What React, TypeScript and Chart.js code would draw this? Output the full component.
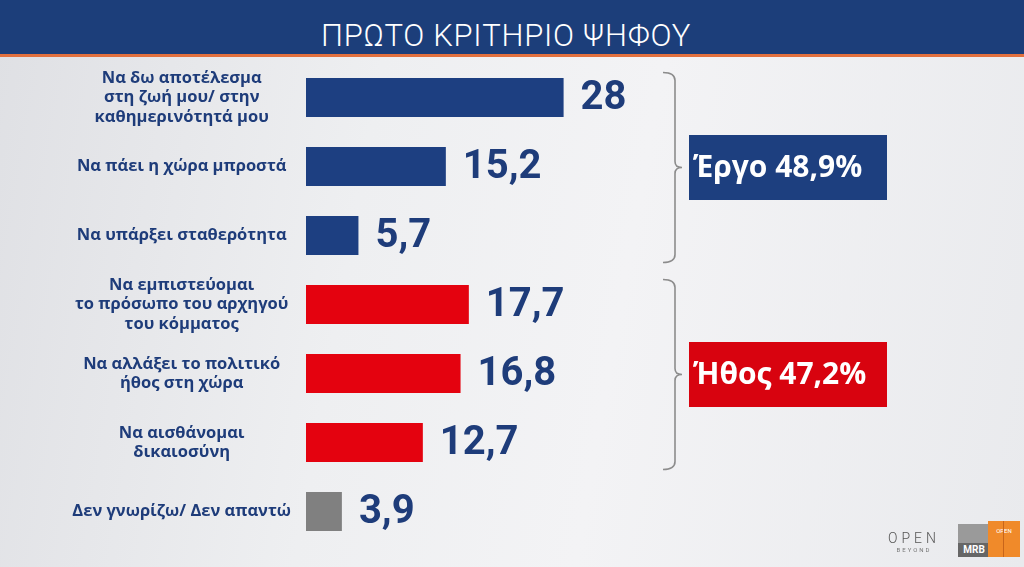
import React, { useEffect, useRef } from "react";
import { Chart, registerables } from "chart.js";

Chart.register(...registerables);

const TITLE = "ΠΡΩΤΟ ΚΡΙΤΗΡΙΟ ΨΗΦΟΥ";
const categories: string[][] = [
  ["Να δω αποτέλεσμα", "στη ζωή μου/ στην", "καθημερινότητά μου"],
  ["Να πάει η χώρα μπροστά"],
  ["Να υπάρξει σταθερότητα"],
  ["Να εμπιστεύομαι", "το πρόσωπο του αρχηγού", "του κόμματος"],
  ["Να αλλάξει το πολιτικό", "ήθος στη χώρα"],
  ["Να αισθάνομαι", "δικαιοσύνη"],
  ["Δεν γνωρίζω/ Δεν απαντώ"],
];
const values: number[] = [28, 15.2, 5.7, 17.7, 16.8, 12.7, 3.9];
const valueLabels: string[] = ["28", "15,2", "5,7", "17,7", "16,8", "12,7", "3,9"];
const groups = [
  { label: "Έργο 48,9%", from: 0, to: 2, color: "#1d3f7f" },
  { label: "Ήθος 47,2%", from: 3, to: 5, color: "#d8030f" },
];

const BLUE = "#1d3f81";
const RED = "#e4020f";
const GREY = "#808080";
const barColors = [BLUE, BLUE, BLUE, RED, RED, RED, GREY];
const TEXT_BLUE = "#1e3c7a";

const valuePlugin = {
  id: "valueLabels",
  afterDatasetsDraw(chart: any) {
    const ctx = chart.ctx;
    const meta = chart.getDatasetMeta(0);
    ctx.save();
    ctx.fillStyle = TEXT_BLUE;
    ctx.font = "bold 40px Roboto";
    ctx.textAlign = "left";
    ctx.textBaseline = "middle";
    meta.data.forEach((bar: any, i: number) => {
      ctx.fillText(valueLabels[i], bar.x + 17, bar.y + 1);
    });
    ctx.restore();
  },
};

const bracketPlugin = {
  id: "brackets",
  afterDraw(chart: any) {
    const ctx = chart.ctx;
    const y = chart.scales.y;
    const bx = 675;
    groups.forEach((g) => {
      const top = y.getPixelForValue(g.from) - 25;
      const bottom = y.getPixelForValue(g.to) + 27;
      const mid = (top + bottom) / 2;
      ctx.save();
      ctx.strokeStyle = "#8c8c8c";
      ctx.lineWidth = 1.6;
      ctx.beginPath();
      ctx.moveTo(bx - 12, top);
      ctx.quadraticCurveTo(bx, top, bx, top + 8);
      ctx.lineTo(bx, mid - 6);
      ctx.quadraticCurveTo(bx, mid, bx + 7, mid);
      ctx.quadraticCurveTo(bx, mid, bx, mid + 6);
      ctx.lineTo(bx, bottom - 8);
      ctx.quadraticCurveTo(bx, bottom, bx - 12, bottom);
      ctx.stroke();
      const bw = 198;
      const bh = 65;
      const left = 689;
      ctx.fillStyle = g.color;
      ctx.fillRect(left, mid - bh / 2, bw, bh);
      ctx.fillStyle = "#ffffff";
      ctx.font = "bold 30px 'Open Sans'";
      ctx.textAlign = "left";
      ctx.textBaseline = "middle";
      ctx.fillText(g.label, left + 4, mid + 1);
      ctx.restore();
    });
  },
};

export default function App() {
  const ref = useRef<HTMLCanvasElement | null>(null);
  useEffect(() => {
    if (!ref.current) return;
    const chart = new Chart(ref.current, {
      type: "bar",
      data: {
        labels: categories,
        datasets: [
          {
            data: values,
            backgroundColor: barColors,
            borderWidth: 0,
            categoryPercentage: 1,
            barPercentage: 0.565,
          },
        ],
      },
      options: {
        indexAxis: "y",
        animation: false,
        responsive: false,
        devicePixelRatio: 1,
        layout: { padding: { top: 63, bottom: 21, left: 0, right: 74 } },
        plugins: {
          legend: { display: false },
          tooltip: { enabled: false },
          title: { display: false },
        },
        scales: {
          x: { display: false, min: 0, max: 70 },
          y: {
            afterFit(scale: any) {
              scale.width = 306;
              scale.paddingTop = 0;
              scale.paddingBottom = 0;
            },
            grid: { display: false, drawTicks: false },
            border: { display: false },
            ticks: {
              crossAlign: "center",
              padding: 15,
              color: TEXT_BLUE,
              font: { family: "'Open Sans'", weight: "bold", size: 16.5, lineHeight: 1.17 },
            },
          },
        },
      },
      plugins: [valuePlugin, bracketPlugin],
    } as any);
    return () => chart.destroy();
  }, []);

  return (
    <div
      style={{
        position: "fixed",
        left: 0,
        top: 0,
        width: 1024,
        height: 567,
        overflow: "hidden",
        background: "linear-gradient(100deg, #dfe0e4 0%, #eeeff1 35%, #f3f3f5 60%, #e9eaed 100%)",
        fontFamily: "Roboto, sans-serif",
      }}
    >
      <div
        style={{
          position: "absolute",
          left: 0,
          top: 0,
          width: 1024,
          height: 57,
          background: "#1c3e7a",
          borderBottom: "3px solid #e2703e",
          color: "#ffffff",
          fontSize: 31,
          fontWeight: 300,
          textAlign: "center",
          lineHeight: "72px",
          paddingRight: 12,
          boxSizing: "border-box",
          letterSpacing: 0.7,
        }}
      >
        <span style={{ lineHeight: "normal" }}>{TITLE}</span>
      </div>
      <canvas ref={ref} width={1024} height={567} style={{ position: "absolute", left: 0, top: 0 }} />
      <div style={{ position: "absolute", left: 886, top: 531, width: 56, textAlign: "center", color: "#555" }}>
        <div style={{ fontSize: 14, letterSpacing: 4, fontWeight: 300, lineHeight: "14px" }}>OPEN</div>
        <div style={{ fontSize: 6, letterSpacing: 2, lineHeight: "10px", color: "#777" }}>BEYOND</div>
      </div>
      <div style={{ position: "absolute", left: 958, top: 524, width: 32, height: 33, background: "#9a9a9a" }}>
        <div style={{ position: "absolute", left: 0, top: 19, width: 32, height: 14, background: "#666", color: "#fff", fontSize: 10, fontWeight: "bold", lineHeight: "14px", textAlign: "center" }}>MRB</div>
      </div>
      <div style={{ position: "absolute", left: 988, top: 521, width: 32, height: 36, background: "#f08a2a", color: "#fff", fontSize: 6, textAlign: "center", lineHeight: "20px" }}>
        OPEN
        <div style={{ position: "absolute", left: 15, top: 0, width: 1, height: 36, background: "#c8651a" }} />
      </div>
    </div>
  );
}
